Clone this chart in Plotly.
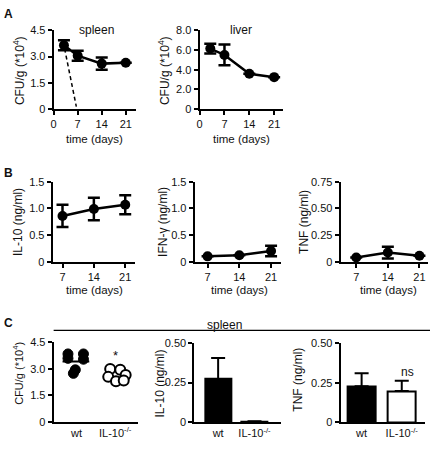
import plotly.graph_objects as go
import numpy as np

# ---------------- data ----------------
spleen_days = [3, 7, 14, 21]
spleen_cfu = [3.65, 3.05, 2.6, 2.65]
spleen_err = [0.28, 0.28, 0.35, 0.0]
spleen_dash_days = [3.2, 6.6]
spleen_dash_cfu = [3.45, 0.15]

liver_days = [3, 7, 14, 21]
liver_cfu = [6.15, 5.5, 3.6, 3.25]
liver_err = [0.5, 1.05, 0.0, 0.0]

b_days = [7, 14, 21]
il10_vals = [0.86, 0.99, 1.07]
il10_err = [0.21, 0.21, 0.18]
ifng_vals = [0.1, 0.12, 0.2]
ifng_err = [0.0, 0.0, 0.1]
tnf_vals = [0.04, 0.086, 0.055]
tnf_err = [0.0, 0.055, 0.0]

c_groups = ["wt", "IL-10<sup>-/-</sup>"]
wt_cfu = [3.85, 3.6, 3.85, 3.55, 2.95, 2.75]
wt_jitter = [-0.22, -0.22, 0.18, 0.18, -0.03, -0.08]
ko_cfu = [3.0, 2.95, 2.65, 2.55, 2.3, 2.35]
ko_jitter = [-0.13, 0.13, 0.27, -0.18, 0.02, 0.22]
c_il10 = [0.272, 0.005]
c_il10_err = [0.132, 0.002]
c_tnf = [0.228, 0.198]
c_tnf_err = [0.083, 0.066]

# ---------------- layout helpers ----------------
W, H = 430, 449
FONT = "Liberation Sans, Arial, sans-serif"


def xd(a, b):
    return [a / W, b / W]


def yd(top, bottom):
    return [1 - bottom / H, 1 - top / H]


fig = go.Figure()

panels = {
    1: dict(x=(51, 134), y=(25, 106), xr=[0, 24], yr=[0, 4.5],
            xt=[0, 7, 14, 21], xtt=["0", "7", "14", "21"],
            yt=[0, 1.5, 3.0, 4.5], ytt=["0", "1.5", "3.0", "4.5"], xticks=True),
    2: dict(x=(198, 282), y=(25, 106), xr=[0, 23.5], yr=[0, 8],
            xt=[0, 7, 14, 21], xtt=["0", "7", "14", "21"],
            yt=[0, 2, 4, 6, 8], ytt=["0", "2.0", "4.0", "6.0", "8.0"], xticks=True),
    3: dict(x=(50, 133), y=(180.7, 262.7), xr=[4.8, 23.2], yr=[0, 1.5],
            xt=[7, 14, 21], xtt=["7", "14", "21"],
            yt=[0, 0.5, 1.0, 1.5], ytt=["0", "0.5", "1.0", "1.5"], xticks=True),
    4: dict(x=(193, 280), y=(180.7, 262.7), xr=[4.15, 23.2], yr=[0, 1.5],
            xt=[7, 14, 21], xtt=["7", "14", "21"],
            yt=[0, 0.5, 1.0, 1.5], ytt=["0", "0.5", "1.0", "1.5"], xticks=True),
    5: dict(x=(340, 428), y=(180.7, 262.7), xr=[3.54, 22.9], yr=[0, 0.75],
            xt=[7, 14, 21], xtt=["7", "14", "21"],
            yt=[0, 0.25, 0.5, 0.75], ytt=["0", "0.25", "0.50", "0.75"], xticks=True),
    6: dict(x=(51, 136), y=(345.7, 427.3), xr=[0.41, 2.59], yr=[0, 4.5],
            xt=[1, 2], xtt=c_groups,
            yt=[0, 1.5, 3.0, 4.5], ytt=["0", "1.5", "3.0", "4.5"], xticks=False),
    7: dict(x=(192.7, 280), y=(346, 427.7), xr=[0.346, 2.73], yr=[0, 0.5],
            xt=[1, 2], xtt=c_groups,
            yt=[0, 0.25, 0.5], ytt=["0", "0.25", "0.50"], xticks=False),
    8: dict(x=(340, 425), y=(346.7, 427.7), xr=[0.477, 2.58], yr=[0, 0.5],
            xt=[1, 2], xtt=c_groups,
            yt=[0, 0.25, 0.5], ytt=["0", "0.25", "0.50"], xticks=False),
}

axis_common = dict(showline=True, linecolor="black", linewidth=2, showgrid=False,
                   zeroline=False, tickfont=dict(family=FONT, size=11, color="#111"),
                   tickcolor="black", tickwidth=2, ticklen=4, fixedrange=True)

layout_axes = {}
for i, p in panels.items():
    sx = "" if i == 1 else str(i)
    layout_axes["xaxis" + sx] = dict(
        axis_common, domain=xd(*p["x"]), range=p["xr"], anchor="y" + sx,
        tickvals=p["xt"], ticktext=p["xtt"], ticks="outside" if p["xticks"] else "")
    layout_axes["yaxis" + sx] = dict(
        axis_common, domain=yd(*p["y"]), range=p["yr"], anchor="x" + sx,
        tickvals=p["yt"], ticktext=p["ytt"], ticks="outside")


def ax(i):
    return ("x", "y") if i == 1 else ("x%d" % i, "y%d" % i)


def line_trace(i, xs, ys, err):
    xa, ya = ax(i)
    fig.add_trace(go.Scatter(
        x=xs, y=ys, xaxis=xa, yaxis=ya, mode="lines+markers", cliponaxis=False,
        line=dict(color="black", width=2.5),
        marker=dict(color="black", size=10),
        error_y=dict(type="data", array=err, visible=True, color="black",
                     thickness=2.5, width=6),
        showlegend=False, hoverinfo="skip"))


line_trace(1, spleen_days, spleen_cfu, spleen_err)
fig.add_trace(go.Scatter(x=spleen_dash_days, y=spleen_dash_cfu, xaxis="x", yaxis="y",
                         mode="lines", line=dict(color="black", width=1.5, dash="4px,3px"),
                         showlegend=False, hoverinfo="skip"))
line_trace(2, liver_days, liver_cfu, liver_err)
line_trace(3, b_days, il10_vals, il10_err)
line_trace(4, b_days, ifng_vals, ifng_err)
line_trace(5, b_days, tnf_vals, tnf_err)

# C scatter
wt_x = [1 + j for j in wt_jitter]
ko_x = [2 + j for j in ko_jitter]
wt_mean = float(np.mean(wt_cfu))
fig.add_trace(go.Scatter(x=[0.64, 1.33], y=[wt_mean, wt_mean], xaxis="x6", yaxis="y6",
                         mode="lines", line=dict(color="black", width=2),
                         showlegend=False, hoverinfo="skip"))
fig.add_trace(go.Scatter(x=wt_x, y=wt_cfu, xaxis="x6", yaxis="y6", mode="markers",
                         marker=dict(color="black", size=10, line=dict(color="black", width=1)),
                         showlegend=False, hoverinfo="skip", cliponaxis=False))
fig.add_trace(go.Scatter(x=ko_x, y=ko_cfu, xaxis="x6", yaxis="y6", mode="markers",
                         marker=dict(color="white", size=10, line=dict(color="black", width=2)),
                         showlegend=False, hoverinfo="skip", cliponaxis=False))


def bar_trace(i, vals, errs, width):
    xa, ya = ax(i)
    fig.add_trace(go.Bar(
        x=[1, 2], y=vals, xaxis=xa, yaxis=ya, width=width,
        marker=dict(color=["black", "white"], line=dict(color="black", width=2)),
        error_y=dict(type="data", array=errs, arrayminus=[0, 0], symmetric=False,
                     visible=True, color="black", thickness=2, width=7),
        showlegend=False, hoverinfo="skip", cliponaxis=False))


bar_trace(7, c_il10, c_il10_err, 0.72)
bar_trace(8, c_tnf, c_tnf_err, 0.69)

# ---------------- annotations ----------------
ann = []


def text(xp, yp, s, size=12, angle=0, bold=False, xanchor="center"):
    ann.append(dict(x=xp / W, y=1 - yp / H, xref="paper", yref="paper",
                    text=("<b>%s</b>" % s) if bold else s,
                    showarrow=False, textangle=angle, xanchor=xanchor, yanchor="middle",
                    font=dict(family=FONT, size=size, color="#111")))


text(5.5, 8.5, "A", 12, bold=True)
text(5.5, 171.5, "B", 12, bold=True)
text(5.5, 326, "C", 12, bold=True)

text(94, 25, "spleen", 12)
text(240, 25, "liver", 12)
cfu_title = "CFU/g (*10<sup>4</sup>)"
text(16, 66, cfu_title, 12, angle=-90)
text(162, 66, cfu_title, 12, angle=-90)
text(92, 136.5, "time (days)", 11.5)
text(240, 136.5, "time (days)", 11.5)

text(15, 222, "IL-10 (ng/ml)", 12, angle=-90)
text(161, 222, "IFN-γ (ng/ml)", 12, angle=-90)
text(303, 222, "TNF (ng/ml)", 12, angle=-90)
text(92, 292, "time (days)", 11.5)
text(238, 292, "time (days)", 11.5)
text(388, 292, "time (days)", 11.5)

text(223, 327.5, "spleen", 12)
text(15, 377, cfu_title, 11, angle=-90)
text(158, 388, "IL-10 (ng/ml)", 12, angle=-90)
text(297, 384, "TNF (ng/ml)", 12, angle=-90)
text(113, 359, "*", 13)
text(407, 376, "ns", 12)

shapes = [dict(type="line", xref="paper", yref="paper", x0=51 / W, x1=1.0,
               y0=1 - 333.3 / H, y1=1 - 333.3 / H, line=dict(color="black", width=1.2))]

fig.update_layout(width=W, height=H, margin=dict(l=0, r=0, t=0, b=0),
                  paper_bgcolor="white", plot_bgcolor="white",
                  annotations=ann, shapes=shapes, showlegend=False,
                  bargap=0, **layout_axes)

fig.write_html("out.html", config={"displayModeBar": False},
               post_script="document.body.style.margin='0';document.body.style.overflow='hidden';")
